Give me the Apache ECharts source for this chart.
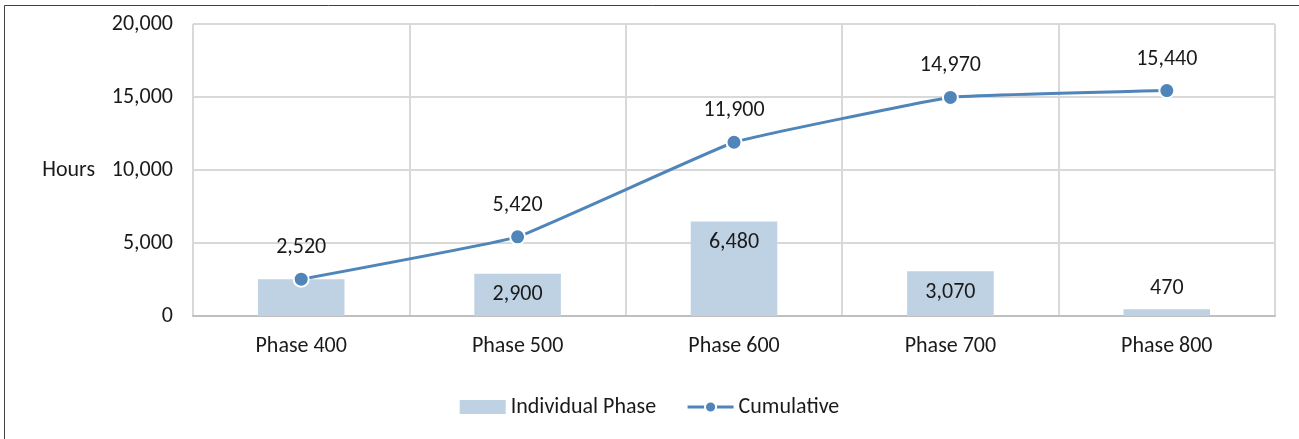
<!DOCTYPE html>
<html>
<head>
<meta charset="utf-8">
<script src="https://cdn.jsdelivr.net/npm/echarts@6/dist/echarts.min.js"></script>
<style>
  html, body { margin: 0; padding: 0; background: #ffffff; }
  #chart { width: 1299px; height: 439px; }
</style>
</head>
<body>
<div id="chart"></div>
<script>
// Hours per phase and running total
const categories = ['Phase 400', 'Phase 500', 'Phase 600', 'Phase 700', 'Phase 800'];
const individualHours = [2520, 2900, 6480, 3070, 470];
const cumulativeHours = [2520, 5420, 11900, 14970, 15440];
// Where each bar's own value label sits ('none' hides it)
const barLabelPlacement = ['none', 'insideTop', 'insideTop', 'insideTop', 'top'];

const FONT = 'Carlito, Lato, "Open Sans", sans-serif';
const FS = 22;
const TEXT = '#1a1a1a';
const LINE = '#4f85b8';
const fmt = v => v.toLocaleString('en-US');

const chart = echarts.init(document.getElementById('chart'), null, { renderer: 'canvas' });

chart.setOption({
  animation: false,
  backgroundColor: '#ffffff',
  textStyle: { fontFamily: FONT, color: TEXT },
  graphic: [{
    type: 'rect',
    shape: { x: 4.5, y: 5.5, width: 1400, height: 600 },
    style: { fill: 'none', stroke: '#404040', lineWidth: 1 },
    silent: true
  }],
  grid: { left: 193, right: 24, top: 24, bottom: 123 },
  legend: {
    bottom: 16,
    left: 'center',
    itemWidth: 46,
    itemHeight: 14,
    itemGap: 30,
    textStyle: { fontFamily: FONT, fontSize: FS, color: TEXT },
    data: [
      { name: 'Individual Phase', icon: 'rect' },
      { name: 'Cumulative', lineStyle: { width: 3, color: LINE } }
    ]
  },
  xAxis: {
    type: 'category',
    data: categories,
    boundaryGap: true,
    axisLine: { show: true, lineStyle: { color: '#bfbfbf', width: 2 } },
    axisTick: { show: false },
    axisLabel: { margin: 19, fontSize: FS, color: TEXT, fontFamily: FONT },
    splitLine: { show: true, lineStyle: { color: '#d9d9d9', width: 2 } }
  },
  yAxis: {
    type: 'value',
    min: 0,
    max: 20000,
    interval: 5000,
    name: 'Hours',
    nameLocation: 'middle',
    nameRotate: 0,
    nameGap: 98,
    nameTextStyle: { fontSize: FS, color: TEXT, fontFamily: FONT, align: 'right' },
    axisLine: { show: false },
    axisTick: { show: false },
    axisLabel: { margin: 20, fontSize: FS, color: TEXT, fontFamily: FONT, formatter: v => fmt(v) },
    splitLine: { show: true, lineStyle: { color: '#d9d9d9', width: 2 } }
  },
  series: [
    {
      name: 'Individual Phase',
      type: 'bar',
      barWidth: '40%',
      itemStyle: { color: '#bfd2e4' },
      data: individualHours.map((v, i) => ({
        value: v,
        label: {
          show: barLabelPlacement[i] !== 'none',
          position: barLabelPlacement[i] === 'none' ? 'insideTop' : barLabelPlacement[i],
          distance: 10,
          fontSize: FS,
          color: TEXT,
          fontFamily: FONT,
          formatter: p => fmt(p.value)
        }
      })),
      z: 2
    },
    {
      name: 'Cumulative',
      type: 'line',
      data: cumulativeHours,
      smooth: 0.08,
      symbol: 'circle',
      symbolSize: 15,
      lineStyle: { color: LINE, width: 3 },
      itemStyle: { color: LINE, borderColor: '#ffffff', borderWidth: 2 },
      label: {
        show: true,
        position: 'top',
        distance: 12,
        fontSize: FS,
        color: TEXT,
        fontFamily: FONT,
        formatter: p => fmt(p.value)
      },
      z: 3
    }
  ]
});
</script>
</body>
</html>
